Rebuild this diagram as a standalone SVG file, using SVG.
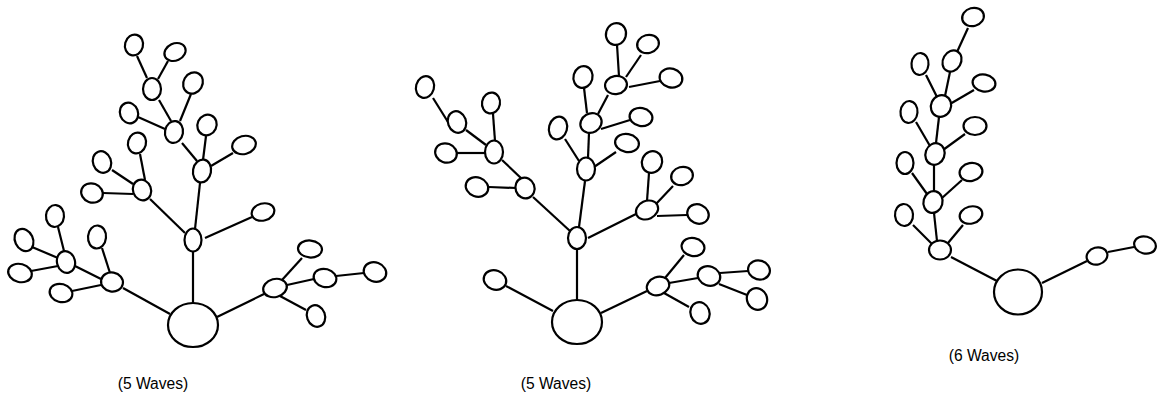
<svg xmlns="http://www.w3.org/2000/svg" width="1157" height="400" viewBox="0 0 1157 400">
<style>
ellipse{fill:#fff;stroke:#000;stroke-width:2.2}
line{stroke:#000;stroke-width:2.2}
text{font-family:"Liberation Sans",Arial,sans-serif;font-size:15.6px;fill:#000;text-anchor:middle}
</style>
<rect width="1157" height="400" fill="#fff"/>
<g id="connectors">
<line x1="193" y1="303" x2="193" y2="252"/><line x1="195" y1="229" x2="200" y2="183"/><line x1="205" y1="238" x2="252" y2="217"/><line x1="185" y1="233" x2="150" y2="199"/>
<line x1="140" y1="154" x2="145" y2="180"/><line x1="112" y1="170" x2="133" y2="184"/><line x1="103" y1="193" x2="133" y2="194"/>
<line x1="182" y1="143" x2="197" y2="161"/><line x1="206" y1="136" x2="203" y2="160"/><line x1="233" y1="153" x2="211" y2="166"/>
<line x1="159" y1="100" x2="171" y2="121"/><line x1="138" y1="117" x2="165" y2="129"/><line x1="191" y1="94" x2="180" y2="121"/>
<line x1="137" y1="56" x2="147" y2="78"/><line x1="168" y1="61" x2="158" y2="79"/>
<line x1="170" y1="314" x2="123" y2="288"/><line x1="101" y1="279" x2="75" y2="266"/><line x1="102" y1="248" x2="110" y2="273"/><line x1="72" y1="291" x2="101" y2="285"/>
<line x1="58" y1="227" x2="64" y2="251"/><line x1="32" y1="247" x2="58" y2="258"/><line x1="31" y1="271" x2="58" y2="266"/>
<line x1="217" y1="317" x2="264" y2="294"/><line x1="282" y1="280" x2="302" y2="258"/><line x1="287" y1="285" x2="314" y2="279"/><line x1="336" y1="276" x2="364" y2="273"/><line x1="280" y1="296" x2="306" y2="310"/>
<line x1="577" y1="300" x2="577" y2="249"/><line x1="553" y1="311" x2="506" y2="286"/><line x1="570" y1="231" x2="533" y2="197"/><line x1="579" y1="227" x2="585" y2="181"/><line x1="588" y1="238" x2="636" y2="214"/><line x1="601" y1="313" x2="647" y2="291"/>
<line x1="522" y1="179" x2="502" y2="160"/><line x1="516" y1="188" x2="489" y2="187"/>
<line x1="486" y1="145" x2="466" y2="130"/><line x1="485" y1="153" x2="457" y2="153"/><line x1="493" y1="114" x2="495" y2="141"/><line x1="433" y1="98" x2="448" y2="122"/>
<line x1="565" y1="139" x2="579" y2="161"/><line x1="616" y1="152" x2="594" y2="167"/><line x1="589" y1="133" x2="588" y2="158"/>
<line x1="584" y1="88" x2="587" y2="113"/><line x1="608" y1="95" x2="598" y2="114"/><line x1="601" y1="129" x2="630" y2="120"/>
<line x1="617" y1="45" x2="619" y2="76"/><line x1="641" y1="55" x2="626" y2="77"/><line x1="629" y1="87" x2="660" y2="81"/>
<line x1="649" y1="173" x2="647" y2="201"/><line x1="673" y1="186" x2="656" y2="204"/><line x1="657" y1="216" x2="687" y2="215"/>
<line x1="665" y1="278" x2="684" y2="255"/><line x1="669" y1="283" x2="698" y2="278"/><line x1="720" y1="273" x2="748" y2="271"/><line x1="719" y1="284" x2="747" y2="295"/><line x1="664" y1="293" x2="689" y2="307"/>
<line x1="997" y1="281" x2="951" y2="257"/><line x1="913" y1="225" x2="932" y2="244"/><line x1="934" y1="213" x2="937" y2="241"/><line x1="963" y1="225" x2="948" y2="243"/>
<line x1="912" y1="173" x2="927" y2="194"/><line x1="934" y1="165" x2="934" y2="191"/><line x1="962" y1="180" x2="942" y2="198"/>
<line x1="916" y1="122" x2="930" y2="146"/><line x1="939" y1="117" x2="936" y2="143"/><line x1="965" y1="134" x2="943" y2="150"/>
<line x1="926" y1="75" x2="937" y2="97"/><line x1="950" y1="72" x2="945" y2="96"/><line x1="974" y1="90" x2="950" y2="104"/>
<line x1="968" y1="28" x2="957" y2="52"/><line x1="1042" y1="283" x2="1087" y2="261"/><line x1="1108" y1="252" x2="1134" y2="247"/>
</g>
<g id="tree1">
<ellipse cx="193" cy="325" rx="25" ry="22"/>
<ellipse cx="193" cy="240" rx="8.5" ry="11.5"/>
<ellipse cx="263" cy="212" rx="11.5" ry="8.5" transform="rotate(-15 263 212)"/>
<ellipse cx="142" cy="190" rx="9" ry="10.5" transform="rotate(-20 142 190)"/>
<ellipse cx="137" cy="143" rx="9" ry="10.5" transform="rotate(15 137 143)"/>
<ellipse cx="102" cy="162" rx="9" ry="11" transform="rotate(-20 102 162)"/>
<ellipse cx="92" cy="193" rx="11" ry="9.5" transform="rotate(20 92 193)"/>
<ellipse cx="202" cy="171" rx="9" ry="11.5" transform="rotate(10 202 171)"/>
<ellipse cx="207" cy="125" rx="9.5" ry="10.5" transform="rotate(25 207 125)"/>
<ellipse cx="244" cy="145" rx="12" ry="9" transform="rotate(-15 244 145)"/>
<ellipse cx="174" cy="132" rx="9" ry="11" transform="rotate(10 174 132)"/>
<ellipse cx="129" cy="113" rx="9" ry="10.5" transform="rotate(-20 129 113)"/>
<ellipse cx="193" cy="83" rx="9.5" ry="11" transform="rotate(30 193 83)"/>
<ellipse cx="152" cy="89" rx="9" ry="11"/>
<ellipse cx="134" cy="45" rx="9" ry="10.5" transform="rotate(15 134 45)"/>
<ellipse cx="175" cy="52" rx="11" ry="8.5" transform="rotate(-25 175 52)"/>
<ellipse cx="66" cy="262" rx="9" ry="11" transform="rotate(-15 66 262)"/>
<ellipse cx="55" cy="216" rx="9" ry="11" transform="rotate(5 55 216)"/>
<ellipse cx="24" cy="240" rx="9" ry="11.5" transform="rotate(-25 24 240)"/>
<ellipse cx="20" cy="273" rx="12" ry="9" transform="rotate(15 20 273)"/>
<ellipse cx="112" cy="282" rx="11" ry="9.5" transform="rotate(10 112 282)"/>
<ellipse cx="97" cy="237" rx="9" ry="11.5" transform="rotate(5 97 237)"/>
<ellipse cx="61" cy="293" rx="11.5" ry="9" transform="rotate(15 61 293)"/>
<ellipse cx="275" cy="288" rx="12" ry="9" transform="rotate(-15 275 288)"/>
<ellipse cx="310" cy="249" rx="12" ry="8.5" transform="rotate(5 310 249)"/>
<ellipse cx="325" cy="278" rx="11.5" ry="9" transform="rotate(15 325 278)"/>
<ellipse cx="375" cy="272" rx="11.5" ry="9.5" transform="rotate(20 375 272)"/>
<ellipse cx="316" cy="316" rx="9" ry="11" transform="rotate(-20 316 316)"/>
</g>
<g id="tree2">
<ellipse cx="577" cy="322" rx="25" ry="22"/>
<ellipse cx="577" cy="238" rx="9" ry="11"/>
<ellipse cx="495" cy="280" rx="11.5" ry="9.5" transform="rotate(20 495 280)"/>
<ellipse cx="525" cy="188" rx="9.5" ry="10.5" transform="rotate(-20 525 188)"/>
<ellipse cx="477" cy="187" rx="11.5" ry="9.5" transform="rotate(20 477 187)"/>
<ellipse cx="494" cy="152" rx="9" ry="11.5"/>
<ellipse cx="446" cy="153" rx="11" ry="9.5" transform="rotate(20 446 153)"/>
<ellipse cx="491" cy="103" rx="9" ry="10.5" transform="rotate(10 491 103)"/>
<ellipse cx="457" cy="122" rx="9" ry="11" transform="rotate(-20 457 122)"/>
<ellipse cx="425" cy="87" rx="9" ry="11" transform="rotate(15 425 87)"/>
<ellipse cx="586" cy="169" rx="9" ry="11.5"/>
<ellipse cx="558" cy="128" rx="9" ry="11.5" transform="rotate(15 558 128)"/>
<ellipse cx="627" cy="143" rx="12" ry="9" transform="rotate(10 627 143)"/>
<ellipse cx="591" cy="123" rx="11" ry="9.5" transform="rotate(-30 591 123)"/>
<ellipse cx="583" cy="77" rx="9.5" ry="11" transform="rotate(15 583 77)"/>
<ellipse cx="641" cy="117" rx="11.5" ry="9" transform="rotate(10 641 117)"/>
<ellipse cx="616" cy="85" rx="11" ry="9" transform="rotate(-10 616 85)"/>
<ellipse cx="616" cy="34" rx="10" ry="11" transform="rotate(15 616 34)"/>
<ellipse cx="648" cy="44" rx="11" ry="9" transform="rotate(-15 648 44)"/>
<ellipse cx="671" cy="78" rx="11.5" ry="9.5" transform="rotate(15 671 78)"/>
<ellipse cx="647" cy="210" rx="11.5" ry="9" transform="rotate(-25 647 210)"/>
<ellipse cx="652" cy="162" rx="10" ry="11" transform="rotate(25 652 162)"/>
<ellipse cx="682" cy="176" rx="11" ry="9" transform="rotate(-15 682 176)"/>
<ellipse cx="698" cy="214" rx="11" ry="9.5" transform="rotate(25 698 214)"/>
<ellipse cx="658" cy="286" rx="11.5" ry="9" transform="rotate(-20 658 286)"/>
<ellipse cx="693" cy="247" rx="11.5" ry="9" transform="rotate(10 693 247)"/>
<ellipse cx="709" cy="276" rx="11.5" ry="9.5" transform="rotate(20 709 276)"/>
<ellipse cx="759" cy="270" rx="11" ry="9.5" transform="rotate(15 759 270)"/>
<ellipse cx="757" cy="299" rx="10" ry="11" transform="rotate(-25 757 299)"/>
<ellipse cx="700" cy="313" rx="9.5" ry="11" transform="rotate(-20 700 313)"/>
</g>
<g id="tree3">
<ellipse cx="1018" cy="292" rx="24" ry="22.5"/>
<ellipse cx="940" cy="250" rx="11" ry="9.5"/>
<ellipse cx="904" cy="215" rx="9" ry="11" transform="rotate(-5 904 215)"/>
<ellipse cx="971" cy="215" rx="11.5" ry="8.5" transform="rotate(-15 971 215)"/>
<ellipse cx="933" cy="202" rx="9.5" ry="11" transform="rotate(15 933 202)"/>
<ellipse cx="905" cy="163" rx="8.5" ry="11"/>
<ellipse cx="971" cy="172" rx="11.5" ry="9" transform="rotate(-10 971 172)"/>
<ellipse cx="935" cy="154" rx="9.5" ry="11" transform="rotate(20 935 154)"/>
<ellipse cx="909" cy="112" rx="8.5" ry="11" transform="rotate(5 909 112)"/>
<ellipse cx="975" cy="126" rx="11.5" ry="9"/>
<ellipse cx="941" cy="106" rx="10" ry="11" transform="rotate(25 941 106)"/>
<ellipse cx="920" cy="64" rx="8.5" ry="11" transform="rotate(5 920 64)"/>
<ellipse cx="984" cy="83" rx="11.5" ry="8.5" transform="rotate(10 984 83)"/>
<ellipse cx="952" cy="61" rx="9" ry="11" transform="rotate(30 952 61)"/>
<ellipse cx="973" cy="17" rx="11" ry="9" transform="rotate(-15 973 17)"/>
<ellipse cx="1097" cy="256" rx="10.5" ry="8.5" transform="rotate(-15 1097 256)"/>
<ellipse cx="1145" cy="245" rx="11" ry="8.5" transform="rotate(15 1145 245)"/>
</g>
<g id="labels">
<text x="153" y="389">(5 Waves)</text>
<text x="556" y="389">(5 Waves)</text>
<text x="984" y="361">(6 Waves)</text>
</g>
</svg>
